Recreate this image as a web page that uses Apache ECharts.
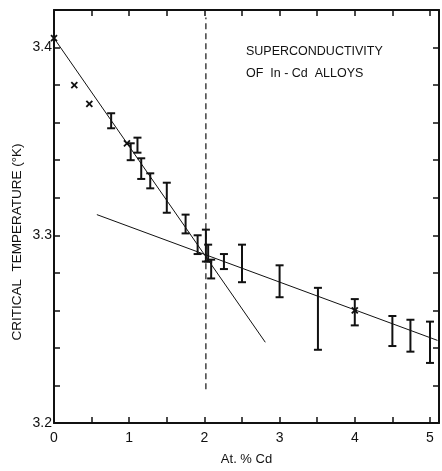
<!DOCTYPE html>
<html>
<head>
<meta charset="utf-8">
<script src="https://cdn.jsdelivr.net/npm/echarts@6/dist/echarts.min.js"></script>
<style>
	html, body { margin: 0; padding: 0; background: #fff; }
	#mainChart { width: 442px; height: 471px; }
</style>
</head>
<body>
<div id="mainChart"></div>
<script>
	// error bars: at.% Cd, low / high Tc
	var errX = [0.76, 1.02, 1.11, 1.16, 1.28, 1.50, 1.75, 1.91, 2.02, 2.05, 2.09, 2.26, 2.50, 3.00, 3.51, 4.00, 4.50, 4.74, 5.00];
	var errLow = [3.357, 3.340, 3.344, 3.330, 3.325, 3.312, 3.301, 3.290, 3.286, 3.286, 3.277, 3.282, 3.275, 3.267, 3.239, 3.252, 3.241, 3.238, 3.232];
	var errHigh = [3.365, 3.349, 3.352, 3.341, 3.333, 3.328, 3.311, 3.300, 3.303, 3.295, 3.287, 3.290, 3.295, 3.284, 3.272, 3.266, 3.257, 3.255, 3.254];

	// single points drawn as x
	var crossX = [0, 0.27, 0.47, 0.97, 4.0];
	var crossY = [3.405, 3.380, 3.370, 3.349, 3.260];

	// fitted lines
	var steepX = [0, 2.81];
	var steepY = [3.405, 3.243];
	var flatX = [0.57, 5.10];
	var flatY = [3.311, 3.244];
	var dashX = [2.02, 2.02];
	var dashY = [3.218, 3.416];

	var xTicks = [0, 1, 2, 3, 4, 5];
	var yTicks = ['3.2', '3.3', '3.4'];

	var ink = '#111';
	var font = 'Liberation Sans';

	function zip(a, b, c) {
		var out = [];
		for (var i = 0; i < a.length; i++) {
			out.push(c ? [a[i], b[i], c[i]] : [a[i], b[i]]);
		}
		return out;
	}

	function renderErr(params, api) {
		var x = api.value(0);
		var lo = api.coord([x, api.value(1)]);
		var hi = api.coord([x, api.value(2)]);
		var w = 4;
		var st = { stroke: ink, lineWidth: 2 };
		return {
			type: 'group',
			children: [
				{ type: 'line', shape: { x1: lo[0], y1: lo[1], x2: hi[0], y2: hi[1] }, style: st },
				{ type: 'line', shape: { x1: hi[0] - w, y1: hi[1], x2: hi[0] + w, y2: hi[1] }, style: st },
				{ type: 'line', shape: { x1: lo[0] - w, y1: lo[1], x2: lo[0] + w, y2: lo[1] }, style: st }
			]
		};
	}

	function renderCross(params, api) {
		var p = api.coord([api.value(0), api.value(1)]);
		var s = 3;
		var st = { stroke: ink, lineWidth: 1.8 };
		return {
			type: 'group',
			children: [
				{ type: 'line', shape: { x1: p[0] - s, y1: p[1] - s, x2: p[0] + s, y2: p[1] + s }, style: st },
				{ type: 'line', shape: { x1: p[0] - s, y1: p[1] + s, x2: p[0] + s, y2: p[1] - s }, style: st }
			]
		};
	}

	function xLabel(v) {
		for (var i = 0; i < xTicks.length; i++) {
			if (Math.abs(v - xTicks[i]) < 1e-6) return String(xTicks[i]);
		}
		return '';
	}
	function yLabel(v) {
		for (var i = 0; i < yTicks.length; i++) {
			if (Math.abs(v - parseFloat(yTicks[i])) < 1e-6) return yTicks[i];
		}
		return '';
	}

	var axLine = { show: true, onZero: false, lineStyle: { color: ink, width: 2 } };
	var tick = { show: true, inside: true, length: 6, lineStyle: { color: ink, width: 1.5 } };

	var myChart = echarts.init(document.getElementById('mainChart'));
	option = {
		backgroundColor: '#fff',
		animation: false,
		title: {
			text: 'SUPERCONDUCTIVITY\nOF  In - Cd  ALLOYS',
			left: 241,
			top: 36,
			textStyle: { fontFamily: font, fontSize: 12.5, fontWeight: 'normal', color: ink, lineHeight: 22 }
		},
		// y title sits a bit below the plot middle in the original
		graphic: [{
			type: 'text',
			x: 17, y: 242,
			rotation: Math.PI / 2,
			style: {
				text: 'CRITICAL  TEMPERATURE (°K)',
				font: '13.5px "Liberation Sans"',
				fill: ink,
				align: 'center',
				verticalAlign: 'middle'
			}
		}],
		grid: { left: 54, right: 2, top: 10, bottom: 44 },
		xAxis: [{
			type: 'value', position: 'bottom', min: 0, max: 5.12, interval: 0.5,
			name: 'At. % Cd', nameLocation: 'middle', nameGap: 30,
			nameTextStyle: { fontFamily: font, fontSize: 13, color: ink },
			axisLine: axLine, axisTick: tick, splitLine: { show: false },
			axisLabel: { formatter: xLabel, fontFamily: font, fontSize: 14, color: ink, margin: 8 }
		}, {
			type: 'value', position: 'top', min: 0, max: 5.12, interval: 0.5,
			axisLine: axLine, axisTick: tick, splitLine: { show: false },
			axisLabel: { show: false }
		}],
		yAxis: [{
			type: 'value', position: 'left', min: 3.2, max: 3.42, interval: 0.02,
			axisLine: axLine, axisTick: tick, splitLine: { show: false },
			axisLabel: { formatter: yLabel, fontFamily: font, fontSize: 14, color: ink, margin: 2 }
		}, {
			type: 'value', position: 'right', min: 3.2, max: 3.42, interval: 0.02,
			axisLine: axLine, axisTick: tick, splitLine: { show: false },
			axisLabel: { show: false }
		}],
		series: [{
			name: 'steep', type: 'line', data: zip(steepX, steepY), symbol: 'none',
			lineStyle: { color: ink, width: 1 }
		}, {
			name: 'flat', type: 'line', data: zip(flatX, flatY), symbol: 'none',
			lineStyle: { color: ink, width: 1 }
		}, {
			name: 'boundary', type: 'line', data: zip(dashX, dashY), symbol: 'none',
			lineStyle: { color: ink, width: 1.2, type: [6, 4] }
		}, {
			name: 'errors', type: 'custom', renderItem: renderErr, data: zip(errX, errLow, errHigh), z: 3
		}, {
			name: 'points', type: 'custom', renderItem: renderCross, data: zip(crossX, crossY), z: 4
		}]
	};
	myChart.setOption(option, true);
</script>
</body>
</html>
